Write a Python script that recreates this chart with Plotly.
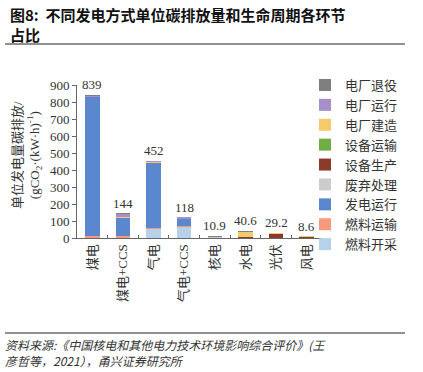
import plotly.graph_objects as go

categories = ["煤电", "煤电+CCS", "气电", "气电+CCS", "核电", "水电", "光伏", "风电"]
totals = [839, 144, 452, 118, 10.9, 40.6, 29.2, 8.6]
total_labels = ["839", "144", "452", "118", "10.9", "40.6", "29.2", "8.6"]

# stacking order, bottom to top
series_names = ["燃料开采", "燃料运输", "发电运行", "废弃处理", "设备生产",
                "设备运输", "电厂建造", "电厂运行", "电厂退役"]
fuel_mining =      [3,   5,   55,  67,  3.5, 0,   0,    0]
fuel_transport =   [8,   6,   2,   1,   0.4, 0,   0,    0]
generation =       [820, 108, 390, 46,  0,   0,   0,    0]
waste =            [1,   2,   0,   0,   4,   0,   0,    0]
equip_production = [0,   0,   0,   0,   0,   5,   27,   6]
equip_transport =  [0,   0,   0,   0,   0,   0,   1,    0.6]
construction =     [2,   3,   2,   1,   2,   34,  1.2,  2]
plant_operation =  [4,   18,  3,   3,   0.5, 1,   0,    0]
decommission =     [1,   2,   0,   0,   0.5, 0.6, 0,    0]
series_values = [fuel_mining, fuel_transport, generation, waste, equip_production,
                 equip_transport, construction, plant_operation, decommission]
series_colors = ["#b6d2ea", "#f59a7c", "#5b87cf", "#cccccc", "#8c3a2c",
                 "#70ad47", "#f6c96a", "#a68fcc", "#7f7f7f"]

serif = "Liberation Serif, Times New Roman, Noto Sans CJK SC, serif"

W, H = 423, 372
L, R, T, B = 77, 101, 85, 134
PW, PH = W - L - R, H - T - B


def px(xp):
    return (xp - L) / PW


def py(yp):
    return (H - B - yp) / PH


fig = go.Figure()
for name, vals, col in zip(series_names, series_values, series_colors):
    fig.add_trace(go.Bar(x=categories, y=vals, name=name, marker_color=col,
                         marker_line_width=0, width=0.47, legendgroup=name))

for c, t, lab in zip(categories, totals, total_labels):
    fig.add_annotation(x=c, y=t, text=lab, showarrow=False, yanchor="bottom",
                       yshift=1, font=dict(family=serif, size=13, color="#333"))

fig.update_layout(
    width=W, height=H,
    barmode="stack", bargap=0.5,
    paper_bgcolor="white", plot_bgcolor="white",
    margin=dict(l=L, r=R, t=T, b=B, autoexpand=False),
    font=dict(family=serif, size=13, color="#333"),
    showlegend=True,
    legend=dict(x=px(305), y=py(70), xanchor="left", yanchor="top",
                traceorder="reversed", maxheight=320,
                font=dict(family=serif, size=13, color="#333"),
                itemwidth=30, tracegroupgap=3.5, bgcolor="rgba(0,0,0,0)"),
    xaxis=dict(showline=True, linecolor="#666", linewidth=1, tickangle=-90,
               ticks="inside", tickson="boundaries", ticklen=3, tickcolor="#666",
               automargin=False,
               tickfont=dict(size=13, family=serif, color="#333")),
    yaxis=dict(range=[0, 900], dtick=100, showline=True, linecolor="#666", linewidth=1,
               ticks="outside", ticklen=4, tickcolor="#666", showgrid=False, zeroline=False,
               automargin=False,
               tickfont=dict(size=13, family=serif, color="#333")),
)

fig.add_annotation(xref="paper", yref="paper", x=px(27), y=py(155),
                   xanchor="center", yanchor="middle", showarrow=False, textangle=-90,
                   text="单位发电量碳排放/<br>(gCO<sub>2</sub>·(kW·h)<sup>-1</sup>)",
                   font=dict(size=13, family=serif, color="#333"))

fig.add_annotation(xref="paper", yref="paper", x=px(8), y=py(2),
                   xanchor="left", yanchor="top", showarrow=False, align="left",
                   text="<b>图8:  不同发电方式单位碳排放量和生命周期各环节<br>占比</b>",
                   font=dict(family="Noto Sans CJK SC, serif", size=15, color="#111"))
fig.add_shape(type="line", xref="paper", yref="paper",
              x0=px(5), x1=px(405), y0=py(44), y1=py(44),
              line=dict(color="#222", width=1.2))
fig.add_shape(type="line", xref="paper", yref="paper",
              x0=px(5), x1=px(405), y0=py(333), y1=py(333),
              line=dict(color="#222", width=1.2))
fig.add_annotation(xref="paper", yref="paper", x=px(3), y=py(334),
                   xanchor="left", yanchor="top", showarrow=False, align="left",
                   text="<i>资料来源:《中国核电和其他电力技术环境影响综合评价》(王<br>彦哲等，2021），甬兴证券研究所</i>",
                   font=dict(family="Noto Sans CJK SC, serif", size=12, color="#333"))

fig.write_html("out.html", config={"displayModeBar": False},
               post_script="document.body.style.margin='0px';")
